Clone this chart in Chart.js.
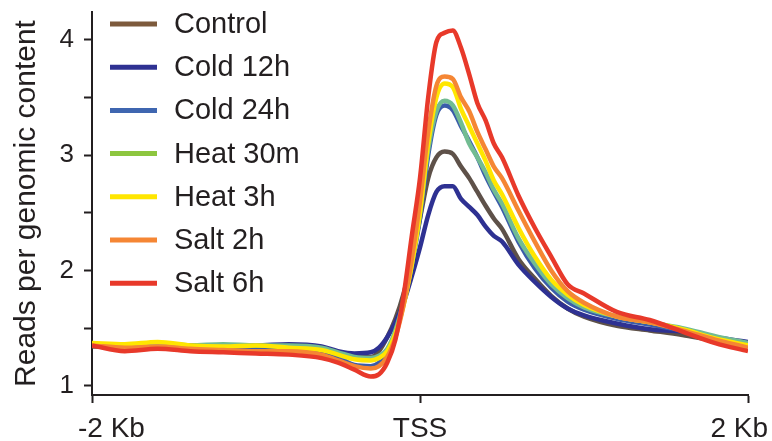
<!DOCTYPE html>
<html><head><meta charset="utf-8">
<script src="https://cdn.jsdelivr.net/npm/chart.js@4/dist/chart.umd.min.js"></script>
<style>html,body{margin:0;padding:0;background:#fff}canvas{display:block}</style>
</head><body>
<canvas id="c" width="772" height="441"></canvas>
<script>
// Distance from TSS (bp)
const positions = [-2000,-1800,-1600,-1400,-1200,-1000,-800,-600,-500,-400,-300,-250,-200,-150,-100,-50,0,50,100,150,200,250,300,350,400,450,500,600,700,800,900,1000,1200,1400,1600,1800,2000];

const seriesNames = ['Control','Cold 12h','Cold 24h','Heat 30m','Heat 3h','Salt 2h','Salt 6h'];

const control = [1.34,1.34,1.35,1.34,1.33,1.33,1.33,1.31,1.28,1.25,1.25,1.30,1.42,1.58,1.80,2.10,2.45,2.80,2.98,3.03,3.01,2.90,2.80,2.68,2.56,2.45,2.36,2.10,1.93,1.78,1.67,1.60,1.52,1.48,1.44,1.39,1.36];
const cold12h = [1.35,1.35,1.36,1.35,1.35,1.35,1.36,1.34,1.30,1.28,1.29,1.33,1.42,1.55,1.72,1.95,2.20,2.48,2.68,2.73,2.73,2.62,2.55,2.48,2.38,2.30,2.25,2.05,1.90,1.77,1.67,1.61,1.54,1.49,1.47,1.42,1.38];
const cold24h = [1.35,1.35,1.36,1.34,1.34,1.33,1.33,1.30,1.25,1.18,1.17,1.20,1.28,1.45,1.72,2.05,2.45,3.00,3.35,3.43,3.39,3.25,3.12,2.98,2.82,2.68,2.55,2.25,2.02,1.85,1.73,1.66,1.58,1.53,1.48,1.42,1.37];
const heat30m = [1.35,1.35,1.37,1.35,1.36,1.35,1.35,1.33,1.29,1.25,1.24,1.26,1.32,1.48,1.73,2.05,2.50,3.05,3.38,3.47,3.43,3.28,3.10,2.98,2.85,2.70,2.58,2.28,2.06,1.88,1.76,1.68,1.60,1.55,1.50,1.43,1.37];
const heat3h = [1.37,1.36,1.38,1.35,1.34,1.35,1.33,1.31,1.27,1.23,1.22,1.24,1.30,1.45,1.70,2.05,2.50,3.10,3.50,3.62,3.59,3.40,3.25,3.10,2.95,2.78,2.66,2.37,2.12,1.92,1.79,1.70,1.60,1.55,1.49,1.41,1.35];
const salt2h = [1.35,1.33,1.34,1.32,1.31,1.30,1.30,1.27,1.22,1.17,1.15,1.17,1.25,1.42,1.70,2.10,2.60,3.20,3.60,3.68,3.66,3.50,3.38,3.20,3.05,2.90,2.80,2.52,2.25,2.00,1.82,1.72,1.60,1.55,1.48,1.40,1.33];
const salt6h = [1.35,1.30,1.32,1.30,1.29,1.28,1.27,1.24,1.20,1.14,1.08,1.10,1.20,1.40,1.78,2.30,2.80,3.50,3.98,4.06,4.08,3.93,3.70,3.45,3.30,3.10,2.98,2.65,2.37,2.12,1.88,1.80,1.64,1.57,1.47,1.37,1.30];

const xTickValues = [-2000, 0, 2000];
const xTickLabels = ['-2 Kb', 'TSS', '2 Kb'];
const yTickValues = [1, 1.5, 2, 2.5, 3, 3.5, 4];

const allSeries = [control, cold12h, cold24h, heat30m, heat3h, salt2h, salt6h];
const lineColors = ['#5e5149','#2e3192','#3a5caa','#72bc92','#ffe600','#f58634','#e8392a'];
const legendColors = ['#7d5a3c','#2e3192','#3f66b0','#8dc63f','#ffe600','#f58634','#e8392a'];

const textColor = '#231f20';
const FONT = '"Liberation Sans", Arial, sans-serif';

const datasets = allSeries.map((vals, i) => ({
  label: seriesNames[i],
  data: positions.map((p, j) => ({x: p, y: vals[j]})),
  borderColor: lineColors[i],
  borderWidth: 4.5,
  pointRadius: 0,
  cubicInterpolationMode: 'monotone',
  fill: false,
  order: allSeries.length - i
}));

// Legend drawn inside the plot area, top-left
const legendPlugin = {
  id: 'insideLegend',
  afterDraw(chart) {
    const ctx = chart.ctx;
    const a = chart.chartArea;
    ctx.save();
    ctx.font = '29px ' + FONT;
    ctx.textBaseline = 'middle';
    ctx.textAlign = 'left';
    seriesNames.forEach((name, i) => {
      const y = a.top + 12 + i * 43.2;
      ctx.strokeStyle = legendColors[i];
      ctx.lineWidth = 5;
      ctx.beginPath();
      ctx.moveTo(a.left + 18, y);
      ctx.lineTo(a.left + 65, y);
      ctx.stroke();
      ctx.fillStyle = textColor;
      ctx.fillText(name, a.left + 82, y + 1);
    });
    ctx.restore();
  }
};

// X tick labels: first/last labels nudged like the reference
const xLabelPlugin = {
  id: 'xLabels',
  afterDraw(chart) {
    const ctx = chart.ctx;
    const sx = chart.scales.x;
    const aligns = ['left', 'center', 'right'];
    const nudges = [-14, 0, 20];
    ctx.save();
    ctx.font = '28px ' + FONT;
    ctx.fillStyle = textColor;
    ctx.textBaseline = 'alphabetic';
    xTickValues.forEach((v, i) => {
      ctx.textAlign = aligns[i];
      ctx.fillText(xTickLabels[i], sx.getPixelForValue(v) + nudges[i], sx.top + 42);
    });
    ctx.restore();
  }
};

new Chart(document.getElementById('c'), {
  type: 'line',
  data: { datasets },
  plugins: [legendPlugin, xLabelPlugin],
  options: {
    responsive: false,
    animation: false,
    layout: { padding: { top: 12, right: 24, left: 0, bottom: 0 } },
    plugins: { legend: { display: false }, tooltip: { enabled: false } },
    scales: {
      x: {
        type: 'linear',
        min: -2000, max: 2000,
        afterBuildTicks: s => { s.ticks = xTickValues.map(v => ({value: v})); },
        afterFit: s => { s.height = 46; s.paddingLeft = 0; s.paddingRight = 0; },
        ticks: { display: false, autoSkip: false, maxRotation: 0 },
        grid: { drawOnChartArea: false, drawTicks: true, tickLength: 8, tickWidth: 2, tickColor: textColor },
        border: { display: true, color: textColor, width: 2 }
      },
      y: {
        min: 0.92, max: 4.24,
        afterBuildTicks: s => { s.ticks = yTickValues.map(v => ({value: v})); },
        afterFit: s => { s.width = 92; s.paddingTop = 0; s.paddingBottom = 0; },
        ticks: {
          color: textColor,
          font: { family: FONT, size: 26 },
          padding: 10,
          callback: v => Number.isInteger(v) ? String(v) : ''
        },
        grid: { drawOnChartArea: false, drawTicks: true, tickLength: 8, tickWidth: 2, tickColor: textColor },
        border: { display: true, color: textColor, width: 2 },
        title: {
          display: true,
          text: 'Reads per genomic content',
          color: textColor,
          font: { family: FONT, size: 30 },
          padding: { top: 9, bottom: 0 }
        }
      }
    }
  }
});
</script>
</body></html>
